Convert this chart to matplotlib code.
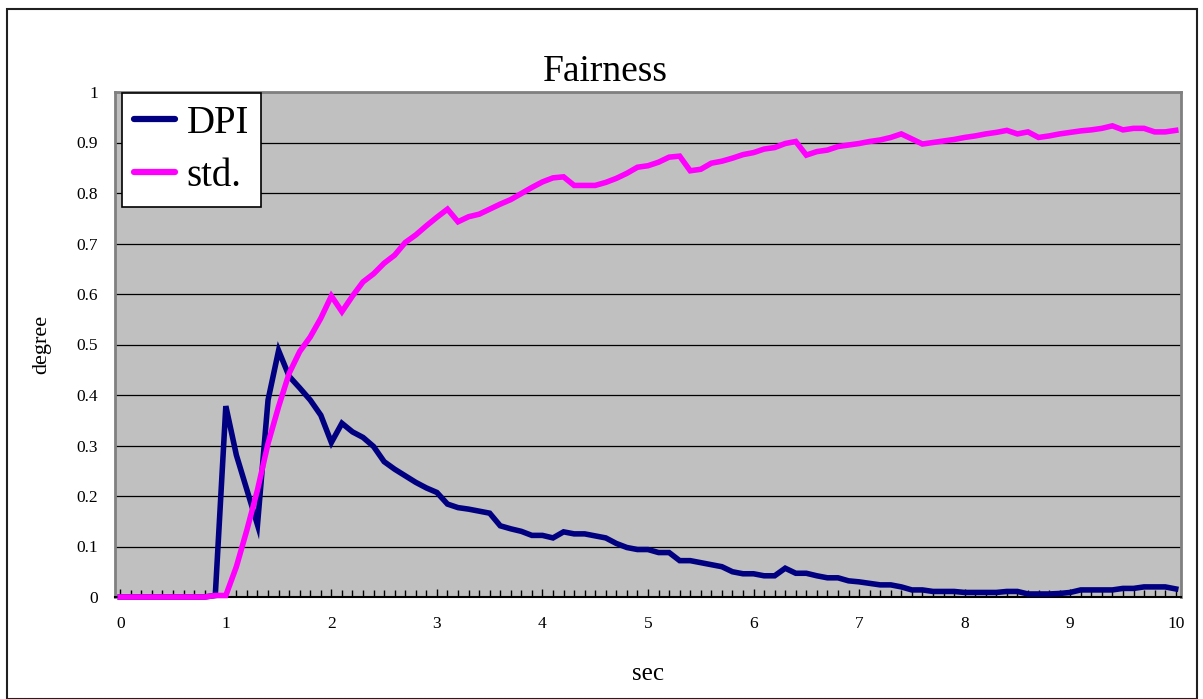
import matplotlib.pyplot as plt
from matplotlib.patches import Rectangle
from matplotlib.ticker import MultipleLocator

# time axis: one sample every 0.1 s from 0 to 10 s
sec = [round(i * 0.1, 1) for i in range(101)]

dpi_values = [
    0, 0, 0, 0, 0, 0, 0, 0, 0, 0.003,                       # 0.0 - 0.9
    0.378, 0.281, 0.212, 0.143, 0.39, 0.488, 0.437, 0.414, 0.39, 0.36,   # 1.0 - 1.9
    0.306, 0.344, 0.327, 0.316, 0.298, 0.268, 0.253, 0.24, 0.227, 0.216,  # 2.0 - 2.9
    0.207, 0.184, 0.177, 0.174, 0.17, 0.166, 0.141, 0.135, 0.13, 0.122,   # 3.0 - 3.9
    0.122, 0.117, 0.129, 0.125, 0.125, 0.121, 0.117, 0.106, 0.098, 0.094,  # 4.0 - 4.9
    0.094, 0.088, 0.088, 0.072, 0.072, 0.068, 0.064, 0.06, 0.05, 0.046,   # 5.0 - 5.9
    0.046, 0.042, 0.042, 0.057, 0.047, 0.047, 0.042, 0.038, 0.038, 0.032,  # 6.0 - 6.9
    0.03, 0.027, 0.024, 0.024, 0.02, 0.014, 0.014, 0.011, 0.011, 0.011,   # 7.0 - 7.9
    0.009, 0.009, 0.009, 0.009, 0.011, 0.011, 0.006, 0.006, 0.006, 0.007,  # 8.0 - 8.9
    0.009, 0.014, 0.014, 0.014, 0.014, 0.017, 0.017, 0.02, 0.02, 0.02,    # 9.0 - 9.9
    0.016,                                                   # 10.0
]

std_values = [
    0, 0, 0, 0, 0, 0, 0, 0, 0, 0.003,                       # 0.0 - 0.9
    0.003, 0.06, 0.133, 0.212, 0.304, 0.377, 0.443, 0.486, 0.515, 0.552,  # 1.0 - 1.9
    0.596, 0.565, 0.596, 0.624, 0.64, 0.661, 0.677, 0.702, 0.717, 0.735,  # 2.0 - 2.9
    0.752, 0.768, 0.743, 0.753, 0.758, 0.768, 0.778, 0.787, 0.799, 0.811,  # 3.0 - 3.9
    0.822, 0.83, 0.832, 0.815, 0.815, 0.815, 0.821, 0.829, 0.839, 0.851,  # 4.0 - 4.9
    0.854, 0.861, 0.871, 0.873, 0.844, 0.847, 0.859, 0.863, 0.869, 0.876,  # 5.0 - 5.9
    0.88, 0.887, 0.89, 0.898, 0.902, 0.875, 0.882, 0.885, 0.892, 0.895,   # 6.0 - 6.9
    0.898, 0.902, 0.905, 0.91, 0.917, 0.907, 0.897, 0.9, 0.903, 0.906,    # 7.0 - 7.9
    0.91, 0.913, 0.917, 0.92, 0.924, 0.917, 0.921, 0.91, 0.913, 0.917,    # 8.0 - 8.9
    0.92, 0.923, 0.925, 0.928, 0.933, 0.925, 0.928, 0.928, 0.921, 0.921,  # 9.0 - 9.9
    0.924,                                                   # 10.0
]

plt.rcParams['font.family'] = ['Liberation Serif', 'DejaVu Serif']

W, H = 1203, 699
fig = plt.figure(figsize=(W / 100, H / 100), dpi=100, facecolor='white')

# plot area in pixel terms
left, right, top, bottom = 115, 1181, 92, 597
ax = fig.add_axes([left / W, 1 - bottom / H, (right - left) / W, (bottom - top) / H])
ax.set_facecolor('#C0C0C0')

ax.plot(sec, dpi_values, color='#000080', linewidth=4, label='DPI',
        solid_joinstyle='miter', clip_on=False, zorder=3)
ax.plot(sec, std_values, color='#FF00FF', linewidth=4, label='std.',
        solid_joinstyle='miter', clip_on=False, zorder=3)

ax.set_xlim(-0.05, 10.05)
ax.set_ylim(0, 1)
ax.set_xticks(range(0, 11))
ax.xaxis.set_minor_locator(MultipleLocator(0.1))
ax.set_yticks([i / 10 for i in range(11)])
ax.set_yticklabels(['0', '0.1', '0.2', '0.3', '0.4', '0.5', '0.6', '0.7', '0.8', '0.9', '1'])

ax.grid(axis='y', color='black', linewidth=0.9)
ax.set_axisbelow(True)

ax.tick_params(axis='x', which='major', direction='in', length=6, width=1,
               pad=14, labelsize=12.5)
ax.tick_params(axis='x', which='minor', direction='in', length=5, width=1)
ax.tick_params(axis='y', which='major', length=0, pad=12, labelsize=12.5)

for side, spine in ax.spines.items():
    spine.set_color('#808080')
    spine.set_linewidth(2)
ax.spines['bottom'].set_color('black')
ax.spines['bottom'].set_linewidth(1.5)

ax.set_title('Fairness', fontsize=27, pad=8, x=0.46)
ax.set_xlabel('sec', fontsize=18, labelpad=22)
ax.set_ylabel('degree', fontsize=16, labelpad=18)

leg = ax.legend(loc='upper left', bbox_to_anchor=(0.007, 0.998), fontsize=28,
                frameon=True, fancybox=False, edgecolor='black', facecolor='white',
                framealpha=1, borderaxespad=0, handlelength=1.05, handletextpad=0.3,
                labelspacing=0.42, borderpad=0.3)
leg.get_frame().set_linewidth(1.2)
for line in leg.get_lines():
    line.set_linewidth(4.5)
    line.set_solid_capstyle('round')

# outer frame around the whole chart
fig.patches.append(Rectangle((7 / W, 0), (1197 - 7) / W, 1 - 9 / H,
                             transform=fig.transFigure, fill=False,
                             edgecolor='#202020', linewidth=1.5))

fig.savefig('out.png', dpi=100, facecolor='white')
